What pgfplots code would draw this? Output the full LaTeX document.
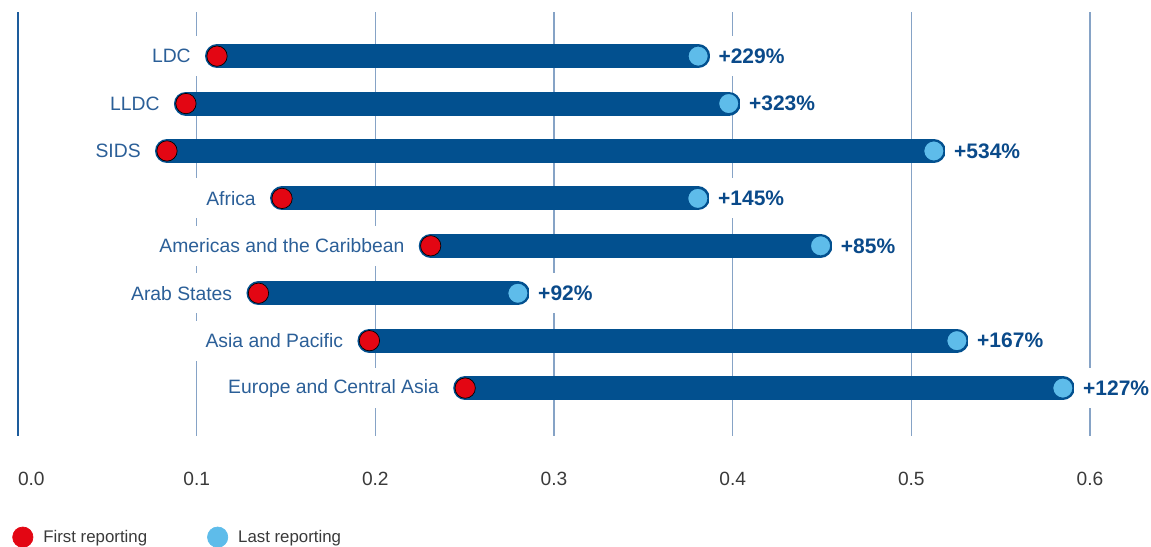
\documentclass[border=0pt]{standalone}
\usepackage{fontspec}
\setmainfont{Liberation Sans}
\usepackage{pgfplots}
\pgfplotsset{compat=1.18}
\usepackage{pgfplotstable}

\definecolor{barblue}{HTML}{02508F}
\definecolor{redc}{HTML}{E30613}
\definecolor{lightb}{HTML}{5EBCEA}
\definecolor{labelblue}{HTML}{2B5F98}
\definecolor{pctblue}{HTML}{0A4A8A}
\definecolor{gridcol}{HTML}{86A3C6}
\definecolor{zerocol}{HTML}{1D5C9C}
\definecolor{tickgray}{HTML}{3A3A3A}

\pgfplotstableread{
y first last name pct
1 0.1114 0.3807 {LDC} {+229\%}
2 0.0940 0.3978 {LLDC} {+323\%}
3 0.0834 0.5126 {SIDS} {+534\%}
4 0.1478 0.3805 {Africa} {+145\%}
5 0.2310 0.4492 {Americas and the Caribbean} {+85\%}
6 0.1346 0.2798 {Arab States} {+92\%}
7 0.1967 0.5255 {Asia and Pacific} {+167\%}
8 0.2503 0.5848 {Europe and Central Asia} {+127\%}
}\data

\begin{document}
\begin{tikzpicture}
\useasboundingbox (-10.8pt,-66.3pt) rectangle (679.8pt,261.3pt);
\begin{axis}[
  at={(0,0)}, anchor=south west,
  scale only axis, width=643.2pt, height=254.1pt,
  xmin=0, xmax=0.6, ymin=0.07, ymax=9, y dir=reverse,
  xtick={0.1,0.2,0.3,0.4,0.5,0.6},
  xticklabels={0.1,0.2,0.3,0.4,0.5,0.6},
  extra x ticks={0},
  extra x tick labels={\makebox[0pt][l]{0.0}},
  extra x tick style={grid style={draw=zerocol, line width=0.7pt}},
  ytick=\empty,
  xmajorgrids,
  grid style={draw=gridcol, line width=0.8pt},
  major tick length=0pt,
  axis line style={draw=none},
  xticklabel style={font=\fontsize{11.5}{14}\selectfont, text=tickgray, yshift=-18.5pt},
  clip=false,
  legend columns=2,
  legend cell align=left,
  legend style={at={(-0.0056,-0.24)}, anchor=west, draw=none, fill=none,
    inner sep=0pt, font=\fontsize{10.1}{12}\selectfont, text=tickgray,
    /tikz/every odd column/.append style={column sep=4pt},
    /tikz/every even column/.append style={column sep=34pt}},
]
% bars
\addplot[forget plot, barblue, line width=14.4pt, line cap=round] coordinates {(0.1114,1) (0.3807,1)};
\addplot[forget plot, barblue, line width=14.4pt, line cap=round] coordinates {(0.0940,2) (0.3978,2)};
\addplot[forget plot, barblue, line width=14.4pt, line cap=round] coordinates {(0.0834,3) (0.5126,3)};
\addplot[forget plot, barblue, line width=14.4pt, line cap=round] coordinates {(0.1478,4) (0.3805,4)};
\addplot[forget plot, barblue, line width=14.4pt, line cap=round] coordinates {(0.2310,5) (0.4492,5)};
\addplot[forget plot, barblue, line width=14.4pt, line cap=round] coordinates {(0.1346,6) (0.2798,6)};
\addplot[forget plot, barblue, line width=14.4pt, line cap=round] coordinates {(0.1967,7) (0.5255,7)};
\addplot[forget plot, barblue, line width=14.4pt, line cap=round] coordinates {(0.2503,8) (0.5848,8)};
% dots
\addplot[only marks, mark=*, mark size=6.1pt, mark options={fill=redc, draw=none},
  legend image code/.code={\fill[redc] (6pt,0pt) circle (6.1pt);}]
  table[x=first, y=y]{\data};
\addlegendentry{First reporting}
\addplot[only marks, mark=*, mark size=6.1pt, mark options={fill=lightb, draw=barblue, line width=0.7pt},
  legend image code/.code={\fill[lightb] (6pt,0pt) circle (6.1pt);}]
  table[x=last, y=y]{\data};
\addlegendentry{Last reporting}
% category labels
\addplot[forget plot, draw=none, mark=none, nodes near coords, point meta=explicit symbolic,
  nodes near coords style={anchor=east, xshift=-7.2pt, fill=white, inner xsep=8.4pt,
    minimum height=24pt, text=labelblue, font=\fontsize{11.6}{14}\selectfont}]
  table[x=first, y=y, meta=name]{\data};
% percentage labels
\addplot[forget plot, draw=none, mark=none, nodes near coords, point meta=explicit symbolic,
  nodes near coords style={anchor=west, xshift=6.6pt, fill=white, inner xsep=5.4pt,
    minimum height=24pt, text=pctblue, font=\fontsize{12.6}{14}\selectfont\bfseries}]
  table[x=last, y=y, meta=pct]{\data};
\end{axis}
\end{tikzpicture}
\end{document}
